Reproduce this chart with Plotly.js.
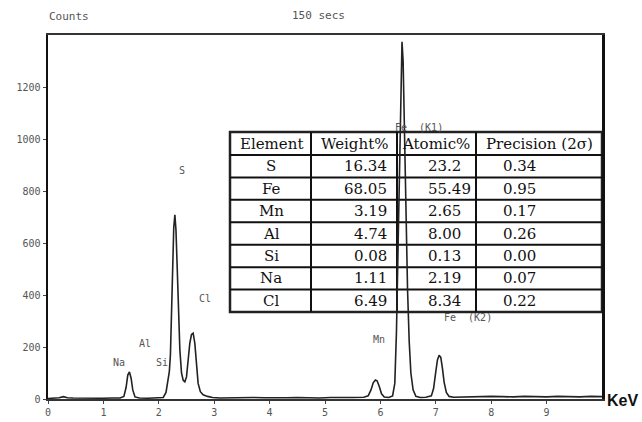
<!DOCTYPE html>
<html>
<head>
<meta charset="utf-8">
<script src="https://cdn.plot.ly/plotly-3.0.1.min.js"></script>
<style>html,body{margin:0;padding:0;background:#fff;}#chart{width:642px;height:422px;}</style>
</head>
<body>
<div id="chart"></div>
<script>
// ---- spectrum data (keV, counts) ----
const energy = [0.00,0.10,0.20,0.28,0.35,0.45,0.60,0.80,1.00,1.15,1.30,1.37,1.41,1.44,1.47,1.50,1.53,1.57,1.65,1.80,1.95,2.08,2.13,2.16,2.19,2.21,2.23,2.25,2.27,2.29,2.31,2.33,2.35,2.38,2.41,2.44,2.47,2.50,2.53,2.56,2.59,2.62,2.65,2.68,2.71,2.75,2.80,2.88,2.97,3.10,3.30,3.50,3.70,3.90,4.10,4.30,4.50,4.70,4.90,5.10,5.30,5.50,5.70,5.78,5.83,5.87,5.91,5.94,5.98,6.02,6.07,6.15,6.22,6.26,6.29,6.32,6.35,6.37,6.39,6.41,6.43,6.46,6.49,6.52,6.55,6.59,6.64,6.72,6.82,6.92,6.96,7.00,7.03,7.06,7.09,7.12,7.15,7.19,7.24,7.32,7.45,7.60,7.80,8.00,8.20,8.40,8.60,8.80,9.00,9.20,9.40,9.60,9.80,10.0];
const counts = [2,3,5,9,5,4,3,4,3,4,4,10,45,92,104,80,35,8,4,3,4,6,25,70,105,170,330,520,660,708,650,520,360,190,100,72,66,85,150,215,248,253,215,130,60,28,16,10,6,4,5,4,6,5,4,5,6,5,4,6,5,6,7,12,35,62,73,70,48,20,8,6,12,60,260,600,1000,1280,1374,1300,1080,720,420,220,100,35,10,6,7,12,40,105,150,168,160,118,65,25,10,7,8,9,8,10,9,8,10,9,8,10,9,8,10,9];

// ---- peak labels ----
const peakLabels = ["Na","Al","Si","S","Cl","Mn","Fe  (K1)","Fe  (K2)"];
const peakLabelX = [1.29,1.75,2.05,2.42,2.83,5.97,6.70,7.59];
const peakLabelY = [142,215,142,877,388,227,1046,312];

// ---- axis ticks ----
const xTicks = [0,1,2,3,4,5,6,7,8,9];
const yTicks = [0,200,400,600,800,1000,1200];

// ---- quantification table ----
const tableHeader = ["Element","Weight%","Atomic%","Precision (2\u03c3)"];
const elements = ["S","Fe","Mn","Al","Si","Na","Cl"];
const weightPct = ["16.34","68.05","3.19","4.74","0.08","1.11","6.49"];
const atomicPct = ["23.2","55.49","2.65","8.00","0.13","2.19","8.34"];
const precision = ["0.34","0.95","0.17","0.26","0.00","0.07","0.22"];

// layout geometry (pixels in the 642x422 frame)
const L = 48, R = 602, T = 35, B = 399;
const px = v => (v - L) / (R - L);
const py = v => (B - v) / (B - T);

const shapes = [];
const annotations = [];

// table frame
const tX = [230, 311, 397, 476, 602];
const tTop = 132, tHead = 155, tBot = 312;
const rowH = (tBot - tHead) / elements.length;
shapes.push({type:'rect', xref:'paper', yref:'paper', x0:px(tX[0]), x1:px(tX[4]), y0:py(tBot), y1:py(tTop),
  line:{color:'#222', width:2.5}, layer:'below'});
for (let i = 1; i < 4; i++) {
  shapes.push({type:'line', xref:'paper', yref:'paper', x0:px(tX[i]), x1:px(tX[i]), y0:py(tBot), y1:py(tTop),
    line:{color:'#111', width:2}, layer:'below'});
}
for (let r = 0; r < elements.length; r++) {
  const yy = tHead + r * rowH;
  shapes.push({type:'line', xref:'paper', yref:'paper', x0:px(tX[0]), x1:px(tX[4]), y0:py(yy), y1:py(yy),
    line:{color:'#111', width:2}, layer:'below'});
}
const cellFont = {family:'DejaVu Serif, serif', size:15, color:'#111'};
const headCenters = [271, 354, 436, 539];
tableHeader.forEach((h, i) => {
  annotations.push({xref:'paper', yref:'paper', x:px(headCenters[i]), y:py((tTop + tHead) / 2),
    text:h, showarrow:false, xanchor:'center', yanchor:'middle', font:cellFont});
});
elements.forEach((e, r) => {
  const yc = py(tHead + rowH * (r + 0.5));
  annotations.push({xref:'paper', yref:'paper', x:px(271), y:yc, text:e, showarrow:false, xanchor:'center', yanchor:'middle', font:cellFont});
  annotations.push({xref:'paper', yref:'paper', x:px(389), y:yc, text:weightPct[r], showarrow:false, xanchor:'right', yanchor:'middle', font:cellFont});
  annotations.push({xref:'paper', yref:'paper', x:px(426), y:yc, text:atomicPct[r], showarrow:false, xanchor:'left', yanchor:'middle', font:cellFont});
  annotations.push({xref:'paper', yref:'paper', x:px(519), y:yc, text:precision[r], showarrow:false, xanchor:'center', yanchor:'middle', font:cellFont});
});

// peak labels
const smallFont = {family:'DejaVu Sans Mono, monospace', size:10, color:'#555'};
peakLabels.forEach((t, i) => {
  annotations.push({x:peakLabelX[i], y:peakLabelY[i], xref:'x', yref:'y', text:t, showarrow:false,
    xanchor:'center', yanchor:'middle', font:smallFont});
});
// header texts
annotations.push({xref:'paper', yref:'paper', x:px(47), y:py(17), text:'Counts', showarrow:false,
  xanchor:'left', yanchor:'middle', font:{family:'DejaVu Sans Mono, monospace', size:11, color:'#555'}});
annotations.push({xref:'paper', yref:'paper', x:px(290), y:py(16), text:'150 secs', showarrow:false,
  xanchor:'left', yanchor:'middle', font:{family:'DejaVu Sans Mono, monospace', size:11, color:'#555'}});
annotations.push({xref:'paper', yref:'paper', x:px(605), y:py(400), text:'<b>KeV</b>', showarrow:false,
  xanchor:'left', yanchor:'middle', font:{family:'Liberation Sans, Arial, sans-serif', size:16, color:'#111'}});

const trace = {
  x: energy, y: counts, type:'scatter', mode:'lines',
  line:{color:'#222', width:1.6}, hoverinfo:'skip'
};

const layout = {
  width:642, height:422,
  margin:{l:L, r:642-R, t:T, b:422-B, pad:0},
  paper_bgcolor:'#fff', plot_bgcolor:'#fff',
  showlegend:false,
  xaxis:{range:[0,10], tickvals:xTicks, ticktext:xTicks.map(String), showgrid:false, zeroline:false,
    showline:true, linecolor:'#333', linewidth:2, mirror:true, ticks:'outside', ticklen:3, tickcolor:'#444',
    tickfont:{family:'DejaVu Sans Mono, monospace', size:10, color:'#555'}},
  yaxis:{range:[0,1400], tickvals:yTicks, ticktext:yTicks.map(String), showgrid:false, zeroline:false,
    showline:true, linecolor:'#111', linewidth:2.5, mirror:true, ticks:'outside', ticklen:3, tickcolor:'#444',
    tickfont:{family:'DejaVu Sans Mono, monospace', size:10, color:'#555'}},
  shapes: shapes,
  annotations: annotations
};

Plotly.newPlot('chart', [trace], layout, {staticPlot:true, displayModeBar:false});
</script>
</body>
</html>
